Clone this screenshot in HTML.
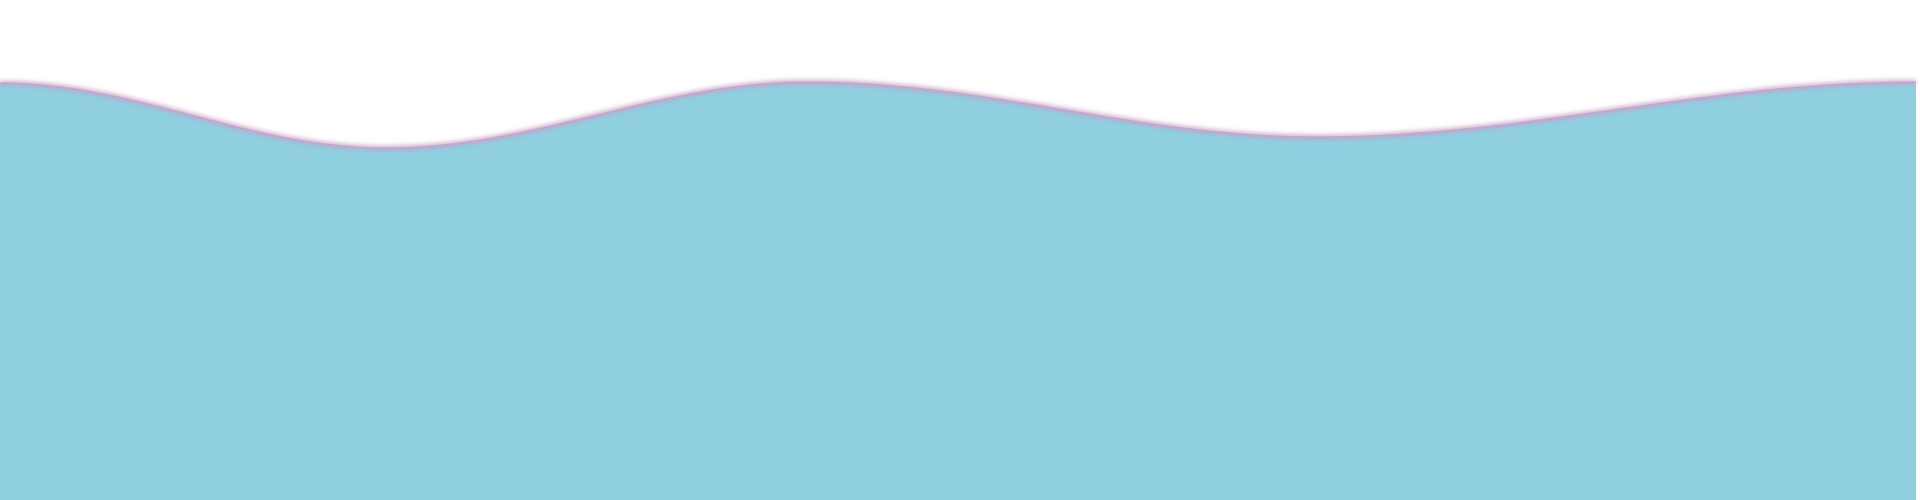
<!DOCTYPE html>
<html><head><meta charset="utf-8"><style>
html,body{margin:0;padding:0;background:#fff;width:1920px;height:500px;overflow:hidden}
svg{display:block}
</style></head><body>
<svg id="chart" width="1920" height="500" viewBox="0 0 1920 500">
<defs>
<filter id="glow" x="-5%" y="-50%" width="110%" height="200%"><feGaussianBlur stdDeviation="2.5"/></filter>
</defs>
<g id="plot"></g>
</svg>
<script>
const categories = [0, 315, 660, 1075, 1565];
const values = [417, 352, 418, 363, 418];
const xDomain = [0, 1565], xRange = [0, 1916];
const yDomain = [0, 500], yRange = [500, 0];
function xs(v){return xRange[0]+(v-xDomain[0])/(xDomain[1]-xDomain[0])*(xRange[1]-xRange[0]);}
function ys(v){return yRange[0]+(v-yDomain[0])/(yDomain[1]-yDomain[0])*(yRange[1]-yRange[0]);}
const pts = categories.map((c,i)=>[xs(c),ys(values[i])]);
let d = 'M'+pts[0][0]+','+pts[0][1];
for(let i=1;i<pts.length;i++){
  const [x0,y0]=pts[i-1],[x1,y1]=pts[i],dx=(x1-x0)*0.36;
  d+=' C'+(x0+dx)+','+y0+' '+(x1-dx)+','+y1+' '+x1+','+y1;
}
const ns='http://www.w3.org/2000/svg', g=document.getElementById('plot');
const area=document.createElementNS(ns,'path');
area.setAttribute('d', d+' L'+pts[pts.length-1][0]+','+ys(0)+' L'+pts[0][0]+','+ys(0)+' Z');
area.setAttribute('fill','#8fcfe0');


g.appendChild(area);
const glow=document.createElementNS(ns,'path');
glow.setAttribute('d', d);
glow.setAttribute('fill','none');
glow.setAttribute('stroke','#c99cc6');
glow.setAttribute('stroke-width','4');
glow.setAttribute('filter','url(#glow)');


g.appendChild(glow);
const line=document.createElementNS(ns,'path');
line.setAttribute('d', d);
line.setAttribute('fill','none');
line.setAttribute('stroke','#c3a6ca');
line.setAttribute('stroke-width','1.2');


g.appendChild(line);
</script>
</body></html>
